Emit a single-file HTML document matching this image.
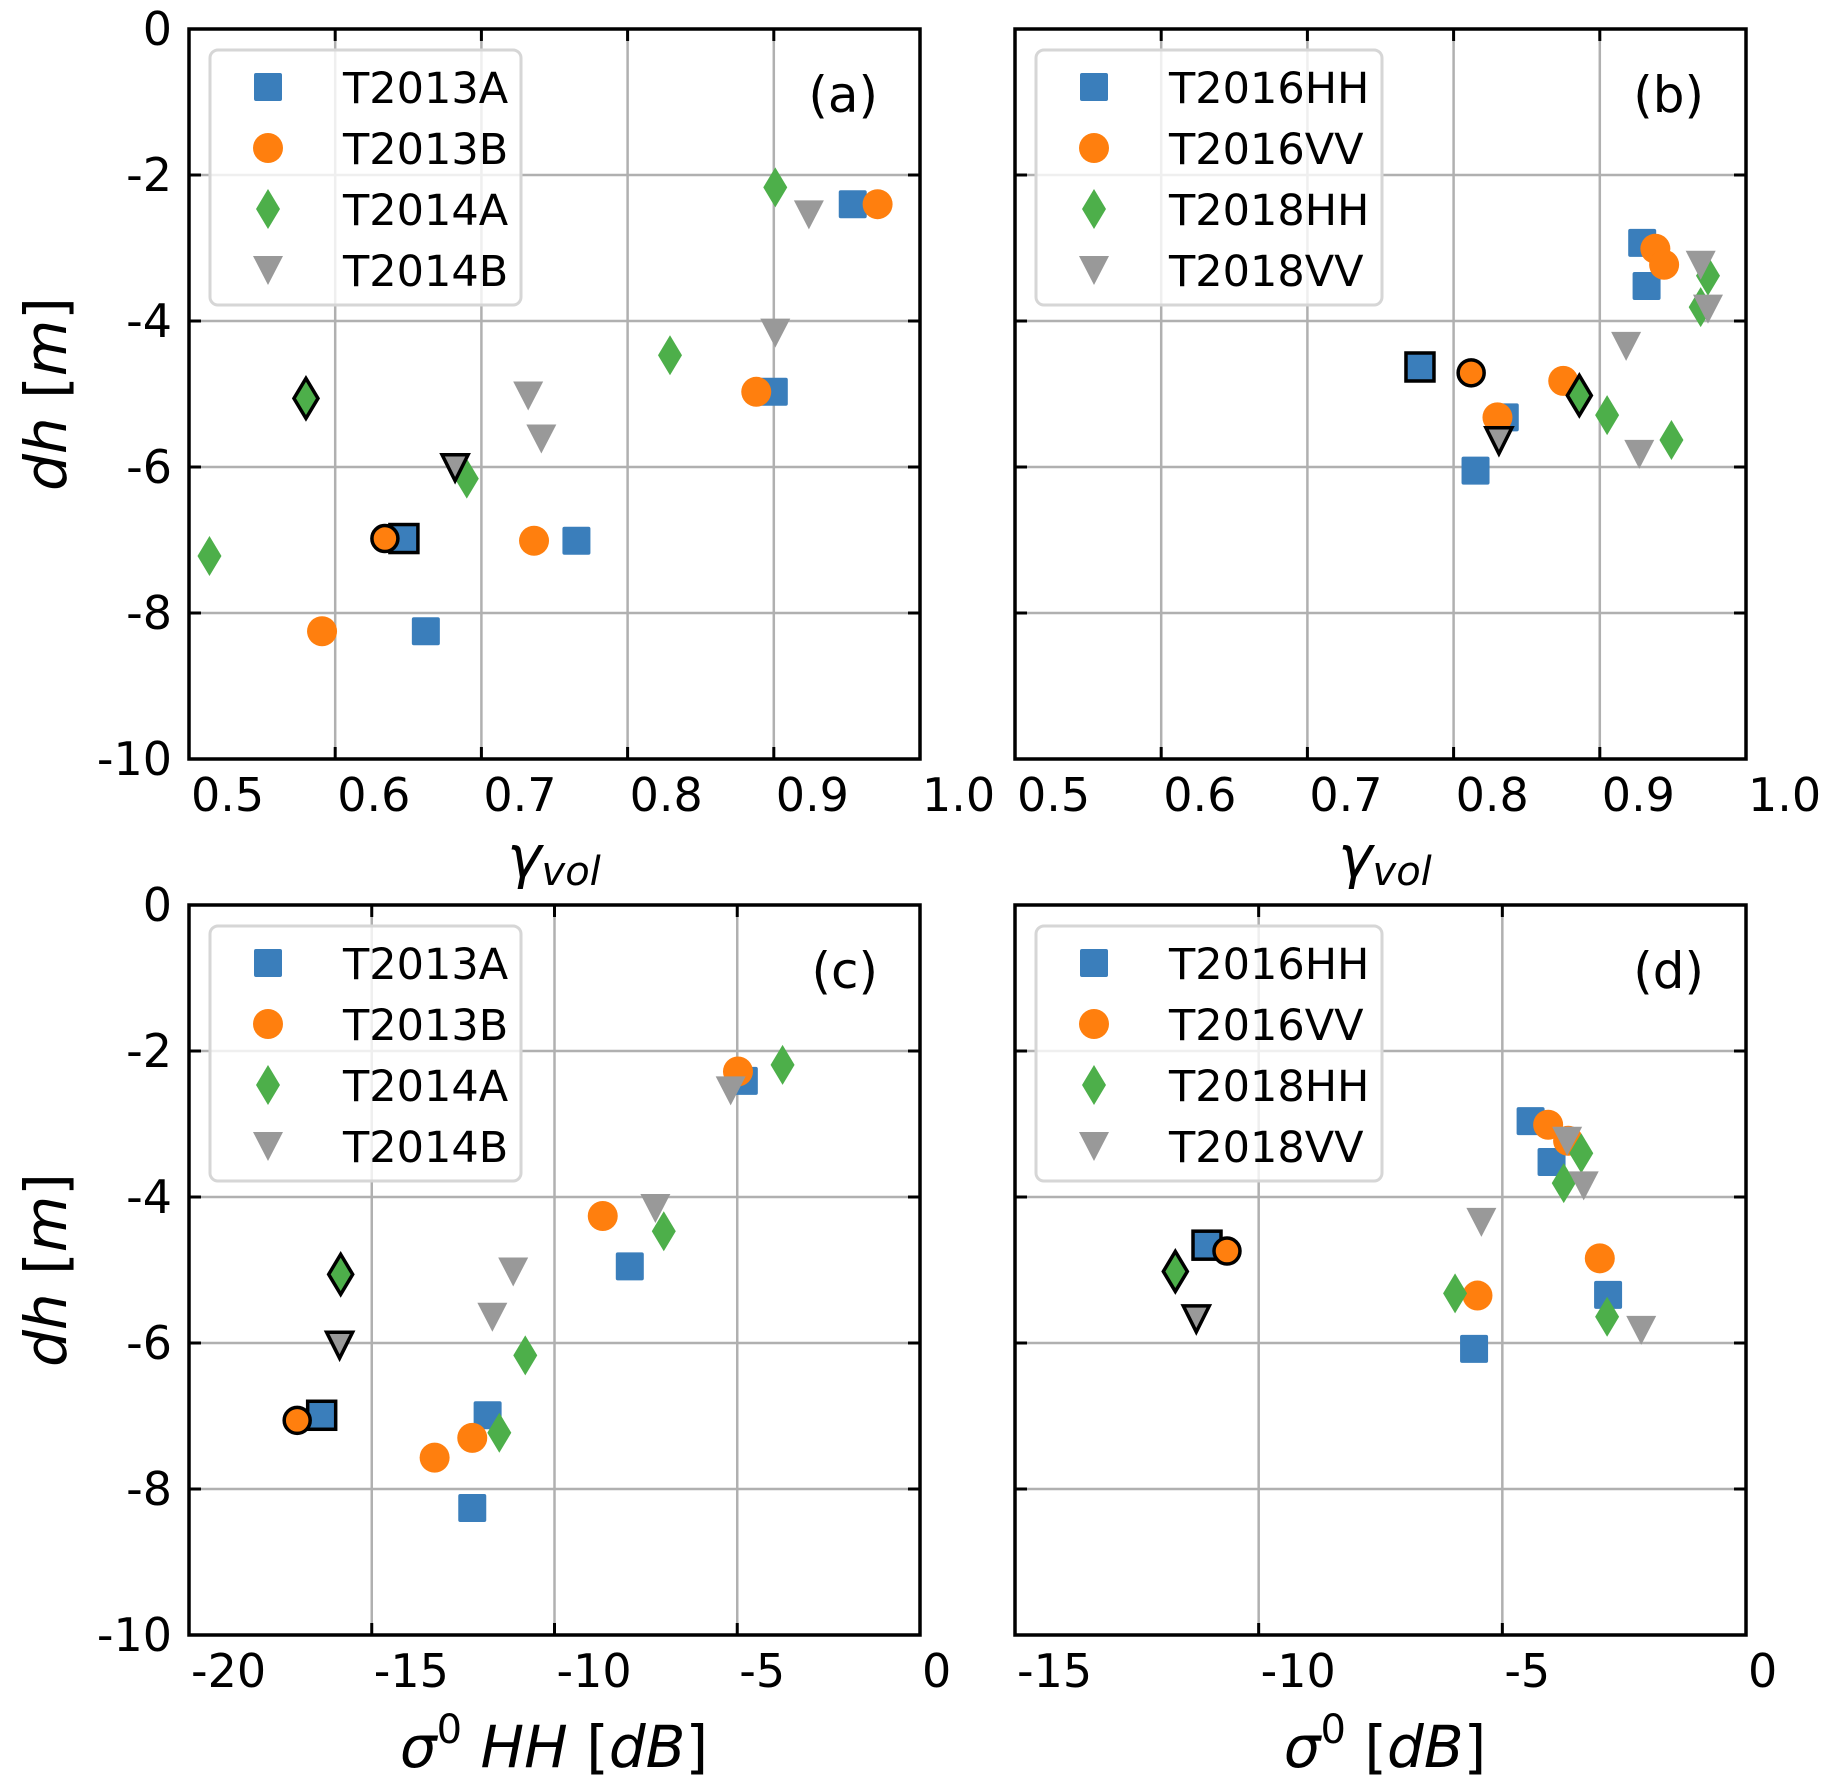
<!DOCTYPE html>
<html><head><meta charset="utf-8"><style>
html,body{margin:0;padding:0;background:#fff;}
svg{display:block;font-family:"DejaVu Sans","Liberation Sans",sans-serif;}
</style></head><body>
<svg id="fig" width="1840" height="1787" viewBox="0 0 1840 1787" xmlns="http://www.w3.org/2000/svg"></svg>
<script>
// ---- data ----
const seriesA = ["T2013A","T2013B","T2014A","T2014B"];
const seriesB = ["T2016HH","T2016VV","T2018HH","T2018VV"];
// panel (a): gamma_vol vs dh
const a_T2013A_x=[0.954,0.900,0.765,0.662,0.647]; const a_T2013A_y=[-2.40,-4.97,-7.01,-8.25,-6.98];
const a_T2013B_x=[0.971,0.888,0.736,0.591,0.634]; const a_T2013B_y=[-2.40,-4.97,-7.01,-8.25,-6.98];
const a_T2014A_x=[0.901,0.829,0.690,0.514,0.580]; const a_T2014A_y=[-2.17,-4.47,-6.16,-7.22,-5.06];
const a_T2014B_x=[0.924,0.901,0.732,0.741,0.682]; const a_T2014B_y=[-2.54,-4.16,-5.02,-5.61,-6.01];
// panel (b)
const b_T2016HH_x=[0.929,0.932,0.835,0.815,0.777]; const b_T2016HH_y=[-2.93,-3.52,-5.32,-6.05,-4.63];
const b_T2016VV_x=[0.938,0.944,0.875,0.830,0.812]; const b_T2016VV_y=[-3.01,-3.23,-4.82,-5.32,-4.71];
const b_T2018HH_x=[0.974,0.969,0.905,0.949,0.886]; const b_T2018HH_y=[-3.38,-3.81,-5.29,-5.63,-5.02];
const b_T2018VV_x=[0.969,0.974,0.918,0.927,0.831]; const b_T2018VV_y=[-3.23,-3.83,-4.34,-5.82,-5.64];
// panel (c): sigma0 HH vs dh
const c_T2013A_x=[-4.82,-7.94,-11.83,-12.25,-16.37]; const c_T2013A_y=[-2.41,-4.95,-6.99,-8.26,-6.99];
const c_T2013B_x=[-4.98,-8.68,-12.25,-13.28,-17.04]; const c_T2013B_y=[-2.28,-4.26,-7.30,-7.57,-7.06];
const c_T2014A_x=[-3.76,-7.01,-10.80,-11.51,-15.85]; const c_T2014A_y=[-2.19,-4.47,-6.17,-7.23,-5.06];
const c_T2014B_x=[-5.18,-7.24,-11.13,-11.70,-15.88]; const c_T2014B_y=[-2.54,-4.15,-5.02,-5.64,-6.03];
// panel (d)
const d_T2016HH_x=[-4.42,-3.99,-2.83,-5.58,-11.06]; const d_T2016HH_y=[-2.96,-3.52,-5.34,-6.08,-4.66];
const d_T2016VV_x=[-4.06,-3.65,-3.00,-5.51,-10.65]; const d_T2016VV_y=[-3.01,-3.23,-4.84,-5.35,-4.74];
const d_T2018HH_x=[-3.38,-3.74,-5.97,-2.85,-11.71]; const d_T2018HH_y=[-3.40,-3.81,-5.32,-5.64,-5.02];
const d_T2018VV_x=[-3.67,-3.33,-5.43,-2.15,-11.28]; const d_T2018VV_y=[-3.23,-3.84,-4.34,-5.82,-5.67];
// last point of each series is the outlined (highlighted) one
const yTicks=[0,-2,-4,-6,-8,-10];
const yTickLabels=["0","-2","-4","-6","-8","-10"];
const gTicks=[0.5,0.6,0.7,0.8,0.9,1.0];
const gTickLabels=["0.5","0.6","0.7","0.8","0.9","1.0"];
const cTicks=[-20,-15,-10,-5,0]; const cTickLabels=["-20","-15","-10","-5","0"];
const dTicks=[-15,-10,-5,0]; const dTickLabels=["-15","-10","-5","0"];

const NS="http://www.w3.org/2000/svg";
const svg=document.getElementById('fig');
function mk(tag,attrs,parent){const e=document.createElementNS(NS,tag);for(const k in attrs)e.setAttribute(k,attrs[k]);(parent||svg).appendChild(e);return e;}
const colors=["#3a7ebb","#ff7f0e","#4daf4a","#999999"];
const shapes=["square","circle","diamond","tri"];

function marker(g,shape,cx,cy,color,outline){
  let e;
  if(shape==="square") e=mk('rect',{x:cx-14,y:cy-14,width:28,height:28,rx:outline?0:2},g);
  else if(shape==="circle") e=mk('circle',{cx:cx,cy:cy,r:outline?13:15},g);
  else if(shape==="diamond") e=mk('polygon',{points:`${cx},${cy-20} ${cx+12},${cy} ${cx},${cy+20} ${cx-12},${cy}`},g);
  else e=mk('polygon',{points:outline?`${cx-13},${cy-13} ${cx+13},${cy-13} ${cx},${cy+13}`:`${cx-15},${cy-14} ${cx+15},${cy-14} ${cx},${cy+15}`},g);
  e.setAttribute('fill',color);
  if(outline){e.setAttribute('stroke','#000');e.setAttribute('stroke-width','3.5');e.setAttribute('stroke-linejoin','miter');}
  return e;
}

function panel(id,L,T,W,H,xmin,xmax,xt,xtl,names,xs,ys,letter,showY){
  const g=mk('g',{},svg);
  
  
  const sx=v=>L+(v-xmin)/(xmax-xmin)*W;
  const sy=v=>T+(0-v)/10*H;
  xt.forEach((v,i)=>{
    const x=sx(v);
    if(i>0&&i<xt.length-1){const l=mk('line',{x1:x,y1:T,x2:x,y2:T+H,stroke:'#b0b0b0','stroke-width':2.5},g);
      }
    mk('line',{x1:x,y1:T+H,x2:x,y2:T+H-12,stroke:'#000','stroke-width':3},g);
    mk('line',{x1:x,y1:T,x2:x,y2:T+12,stroke:'#000','stroke-width':3},g);
    const tx=mk('text',{x:x+2,y:T+H+52,'font-size':46,'text-anchor':'start',fill:'#000'},g);
    
    tx.textContent=xtl[i];
  });
  yTicks.forEach((v,i)=>{
    const y=sy(v);
    if(i>0&&i<yTicks.length-1){const l=mk('line',{x1:L,y1:y,x2:L+W,y2:y,stroke:'#b0b0b0','stroke-width':2.5},g);
      }
    mk('line',{x1:L,y1:y,x2:L+12,y2:y,stroke:'#000','stroke-width':3},g);
    mk('line',{x1:L+W,y1:y,x2:L+W-12,y2:y,stroke:'#000','stroke-width':3},g);
    if(showY){const tx=mk('text',{x:L-17,y:y+16,'font-size':46,'text-anchor':'end',fill:'#000'},g);
      
      tx.textContent=yTickLabels[i];}
  });
  names.forEach((n,si)=>{
    const X=xs[si],Y=ys[si];
    for(let k=0;k<X.length-1;k++){const m=marker(g,shapes[si],sx(X[k]),sy(Y[k]),colors[si],false);
      }
  });
  names.forEach((n,si)=>{
    const X=xs[si],Y=ys[si],k=X.length-1;
    const m=marker(g,shapes[si],sx(X[k]),sy(Y[k]),colors[si],true);
    
  });
  const lg=mk('g',{},g);
  
  const lw=names[0].length>6?346:311;
  mk('rect',{x:L+21,y:T+21,width:lw,height:255,rx:8,fill:'rgba(255,255,255,0.8)',stroke:'#d6d6d6','stroke-width':3},lg);
  names.forEach((n,si)=>{
    const cy=T+58+si*61;
    const m=marker(lg,shapes[si],L+79,cy,colors[si],false);
    
    const t=mk('text',{x:L+154,y:cy+16,'font-size':43,fill:'#000'},lg);
    
    t.textContent=n;
  });
  const pl=mk('text',{x:L+W-42,y:T+83,'font-size':50,'text-anchor':'end',fill:'#000'},g);
  
  pl.textContent=letter;
  const f=mk('rect',{x:L,y:T,width:W,height:H,fill:'none',stroke:'#000','stroke-width':3.5},g);
  
}

panel('a',189,29,731,730,0.5,1.0,gTicks,gTickLabels,seriesA,
  [a_T2013A_x,a_T2013B_x,a_T2014A_x,a_T2014B_x],[a_T2013A_y,a_T2013B_y,a_T2014A_y,a_T2014B_y],'(a)',true);
panel('b',1015,29,731,730,0.5,1.0,gTicks,gTickLabels,seriesB,
  [b_T2016HH_x,b_T2016VV_x,b_T2018HH_x,b_T2018VV_x],[b_T2016HH_y,b_T2016VV_y,b_T2018HH_y,b_T2018VV_y],'(b)',false);
panel('c',189,905,731,730,-20,0,cTicks,cTickLabels,seriesA,
  [c_T2013A_x,c_T2013B_x,c_T2014A_x,c_T2014B_x],[c_T2013A_y,c_T2013B_y,c_T2014A_y,c_T2014B_y],'(c)',true);
panel('d',1015,905,731,730,-15,0,dTicks,dTickLabels,seriesB,
  [d_T2016HH_x,d_T2016VV_x,d_T2018HH_x,d_T2018VV_x],[d_T2016HH_y,d_T2016VV_y,d_T2018HH_y,d_T2018VV_y],'(d)',false);
</script>
<svg style="position:absolute;left:0;top:0" width="1840" height="1787" xmlns="http://www.w3.org/2000/svg">
  <g font-family="DejaVu Sans, Liberation Sans, sans-serif" fill="#000">
    <text transform="translate(66,394) rotate(-90)" font-size="58" text-anchor="middle"><tspan font-style="italic">dh</tspan> [<tspan font-style="italic">m</tspan>]</text>
    <text transform="translate(66,1270) rotate(-90)" font-size="58" text-anchor="middle"><tspan font-style="italic">dh</tspan> [<tspan font-style="italic">m</tspan>]</text>
    <text x="554" y="877" font-size="58" text-anchor="middle" font-style="italic">γ<tspan font-size="40" dy="8">vol</tspan></text>
    <text x="1385" y="877" font-size="58" text-anchor="middle" font-style="italic">γ<tspan font-size="40" dy="8">vol</tspan></text>
    <text x="554" y="1767" font-size="58" text-anchor="middle"><tspan font-style="italic">σ</tspan><tspan font-size="40" dy="-24">0</tspan><tspan dy="24" font-style="italic"> HH</tspan> [<tspan font-style="italic">dB</tspan>]</text>
    <text x="1385" y="1767" font-size="58" text-anchor="middle"><tspan font-style="italic">σ</tspan><tspan font-size="40" dy="-24">0</tspan><tspan dy="24"> [</tspan><tspan font-style="italic">dB</tspan>]</text>
  </g>
</svg>
</body></html>
